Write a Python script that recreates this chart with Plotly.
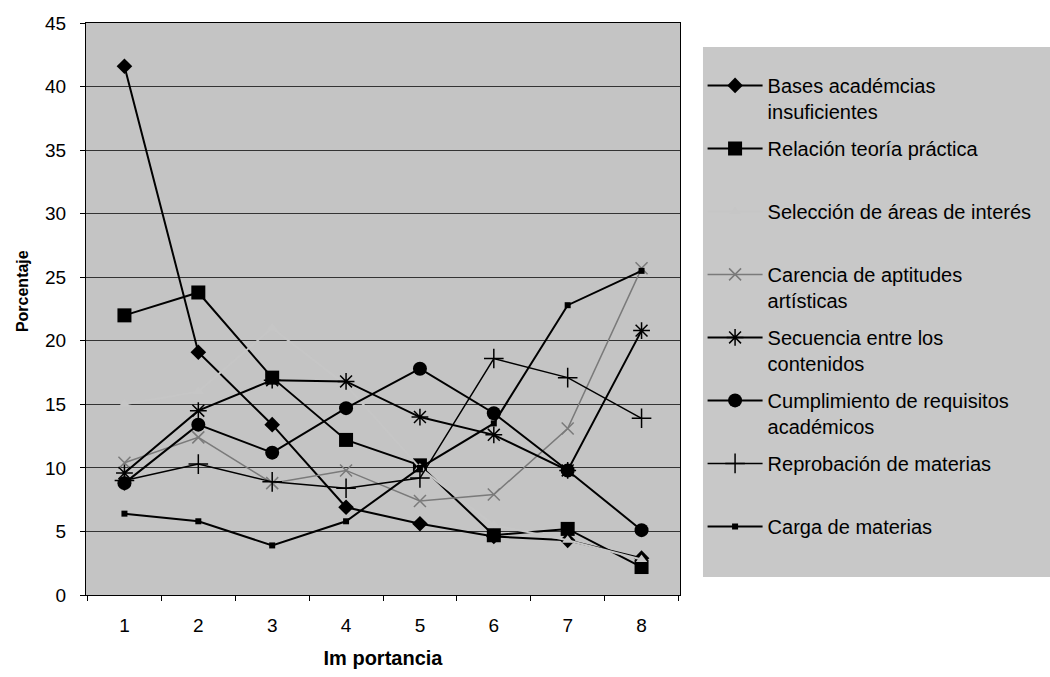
import plotly.graph_objects as go

categories = ["1", "2", "3", "4", "5", "6", "7", "8"]

bases = [41.6, 19.1, 13.4, 6.9, 5.6, 4.6, 4.3, 2.9]
relacion = [22.0, 23.8, 17.1, 12.2, 10.2, 4.7, 5.2, 2.2]
seleccion = [15.0, 16.0, 21.0, 16.5, 10.0, 5.5, 4.3, 2.8]
carencia = [10.4, 12.4, 8.8, 9.8, 7.4, 7.9, 13.1, 25.7]
secuencia = [9.6, 14.5, 16.9, 16.8, 14.0, 12.6, 9.8, 20.8]
cumplimiento = [8.8, 13.4, 11.2, 14.7, 17.8, 14.3, 9.8, 5.1]
reprobacion = [9.0, 10.3, 8.9, 8.4, 9.2, 18.6, 17.1, 13.9]
carga = [6.4, 5.8, 3.9, 5.8, 10.0, 13.5, 22.8, 25.5]

names = [
    "Bases académcias<br>insuficientes",
    "Relación teoría práctica<br> ",
    "Selección de áreas de interés<br> ",
    "Carencia de aptitudes<br>artísticas",
    "Secuencia entre los<br>contenidos",
    "Cumplimiento de requisitos<br>académicos",
    "Reprobación de materias<br> ",
    "Carga de materias<br> ",
]

series = [bases, relacion, seleccion, carencia, secuencia, cumplimiento, reprobacion, carga]
styles = [
    dict(color="#000000", width=2, symbol="diamond", size=12, open=False),
    dict(color="#000000", width=2, symbol="square", size=14, open=False),
    dict(color="#c6c6c6", width=2, symbol="triangle-up", size=10, open=False),
    dict(color="#7a7a7a", width=1.5, symbol="x-thin-open", size=12, open=True),
    dict(color="#000000", width=2, symbol="asterisk-open", size=14, open=True),
    dict(color="#000000", width=2, symbol="circle", size=14, open=False),
    dict(color="#000000", width=1.5, symbol="cross-thin-open", size=14, open=True),
    dict(color="#000000", width=2, symbol="square", size=6, open=False),
]

FONT = "Liberation Sans, Arial, sans-serif"
fig = go.Figure()
for i, (name, vals, st) in enumerate(zip(names, series, styles)):
    marker = dict(symbol=st["symbol"], size=st["size"], color=st["color"])
    if st["open"]:
        marker["line"] = dict(color=st["color"], width=1.5)
    fig.add_trace(go.Scatter(
        x=categories, y=vals, name=name, mode="lines+markers",
        line=dict(color=st["color"], width=st["width"]),
        marker=marker, legendgroup=f"g{i}",
    ))

# legend background panel (paper coordinates)
fig.add_shape(type="rect", xref="paper", yref="paper",
              x0=1.0387, x1=1.65, y0=0.0315, y1=0.958,
              fillcolor="#c8c8c8", line=dict(width=0), layer="below")

# y-axis title
fig.add_annotation(text="<b>Porcentaje</b>", xref="paper", yref="paper",
                   x=-0.108, y=0.531, xanchor="center", yanchor="middle",
                   textangle=-90, showarrow=False,
                   font=dict(family=FONT, size=16, color="black"))

fig.update_layout(
    width=1050, height=677,
    margin=dict(l=86, r=370, t=23, b=82),
    paper_bgcolor="white",
    plot_bgcolor="#c4c4c4",
    font=dict(family=FONT, size=16, color="black"),
    showlegend=True,
    legend=dict(
        x=1.038, y=0.925, xanchor="left", yanchor="top",
        bgcolor="rgba(0,0,0,0)", borderwidth=0,
        font=dict(family=FONT, size=20, color="black"),
        traceorder="grouped", tracegroupgap=8,
        valign="top", itemwidth=55,
    ),
    xaxis=dict(
        type="category", tickson="boundaries", ticks="outside", ticklen=5,
        tickcolor="black", showline=True, linecolor="black", linewidth=1,
        mirror=True, showgrid=False, automargin=False,
        tickfont=dict(family=FONT, size=19), ticklabelstandoff=13,
        title=dict(text="<b>Im portancia</b>", font=dict(family=FONT, size=20), standoff=16),
    ),
    yaxis=dict(
        range=[0, 45], dtick=5, ticks="outside", ticklen=5, tickcolor="black",
        showline=True, linecolor="black", linewidth=1, mirror=True,
        showgrid=True, gridcolor="#333333", gridwidth=1, zeroline=False,
        automargin=False,
        tickfont=dict(family=FONT, size=19), ticklabelstandoff=10,
    ),
)

fig.write_html("out.html", post_script="document.body.style.margin='0';",
               config={"displayModeBar": False})
